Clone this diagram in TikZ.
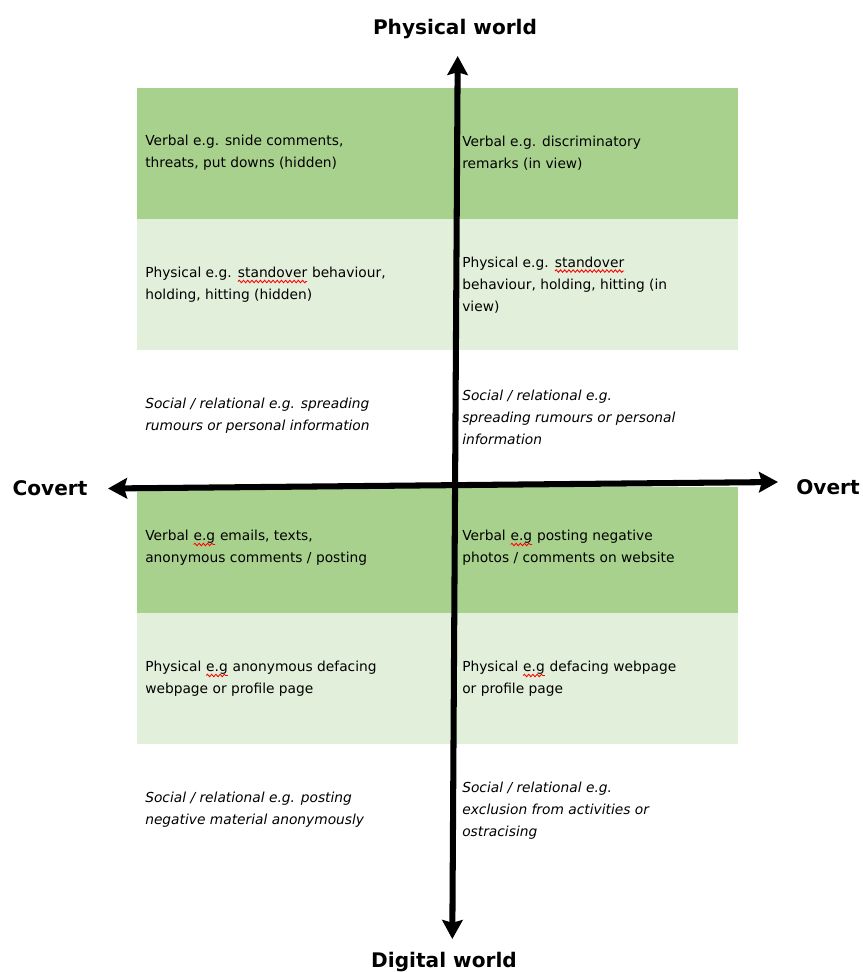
\documentclass[tikz,border=0pt]{standalone}
\usepackage{fontspec}
\setmainfont{DejaVu Sans}
\usetikzlibrary{arrows.meta,decorations.pathmorphing}
\definecolor{darkgreen}{RGB}{169,209,142}
\definecolor{lightgreen}{RGB}{226,239,218}
% red spell-check squiggle under a word
\newcommand{\spellchk}[1]{\tikz[baseline=(w.base)]{\node[inner sep=0pt,outer sep=0pt,anchor=base] (w) {#1};
  \draw[red, line width=0.6pt, decorate, decoration={snake, amplitude=0.9pt, segment length=3pt}] ([yshift=-2.6pt]w.base west) -- ([yshift=-2.6pt]w.base east);}}

\begin{document}
\begin{tikzpicture}[x=0.025cm, y=-0.025cm,
    cell/.style={anchor=west, align=left, inner sep=0pt, font=\fontsize{9.8}{15.6}\selectfont},
    icell/.style={cell, font=\fontsize{9.8}{15.6}\selectfont\itshape},
    lbl/.style={anchor=base, inner sep=0pt, font=\fontsize{14.3}{17}\selectfont\bfseries},
    axis/.style={line width=4.3pt, {Stealth[length=13.5pt, width=14.5pt, inset=2pt]}-{Stealth[length=13.5pt, width=14.5pt, inset=2pt]}}]
    \useasboundingbox (0,0) rectangle (862,972);

    % Bands
    \fill[darkgreen] (137,88) rectangle (738,219);
    \fill[lightgreen] (137,219) rectangle (738,350);
    \fill[darkgreen] (137,487) rectangle (738,613);
    \fill[lightgreen] (137,613) rectangle (738,744);

    % Axis labels
    \node [lbl] (phys) at (455,35) {Physical world};
    \node [lbl] (digi) at (444,967) {Digital world};
    \node [lbl] (covert) at (50,495) {Covert};
    \node [lbl] (overt) at (828,494) {Overt};

    % Axes
    \coordinate (ptop) at (457.7,56);
    \coordinate (dbot) at (452.3,939);
    \coordinate (cleft) at (108,488.5);
    \coordinate (oright) at (778,482);
    \draw [axis] (dbot) -- (ptop);
    \draw [axis] (cleft) -- (oright);

    % Physical world
    \node [cell] (vcp) at (145,153) {Verbal e.g. snide comments,\\threats, put downs (hidden)};
    \node [cell] (vop) at (462,153) {Verbal e.g. discriminatory\\remarks (in view)};
    \node [cell] (pcp) at (145,285) {Physical e.g. \spellchk{standover} behaviour,\\holding, hitting (hidden)};
    \node [cell] (pop) at (462,285) {Physical e.g. \spellchk{standover}\\behaviour, holding, hitting (in\\view)};
    \node [icell] (scp) at (145,416) {Social / relational e.g. spreading\\rumours or personal information};
    \node [icell] (sop) at (462,417) {Social / relational e.g.\\spreading rumours or personal\\information};

    % Digital world
    \node [cell] (vcd) at (145,548) {Verbal \spellchk{e.g} emails, texts,\\anonymous comments / posting};
    \node [cell] (vod) at (462,548) {Verbal \spellchk{e.g} posting negative\\photos / comments on website};
    \node [cell] (pcd) at (145,679) {Physical \spellchk{e.g} anonymous defacing\\webpage or profile page};
    \node [cell] (pod) at (462,679) {Physical \spellchk{e.g} defacing webpage\\or profile page};
    \node [icell] (scd) at (145,810) {Social / relational e.g. posting\\negative material anonymously};
    \node [icell] (sod) at (462,811) {Social / relational e.g.\\exclusion from activities or\\ostracising};

\end{tikzpicture}
\end{document}
